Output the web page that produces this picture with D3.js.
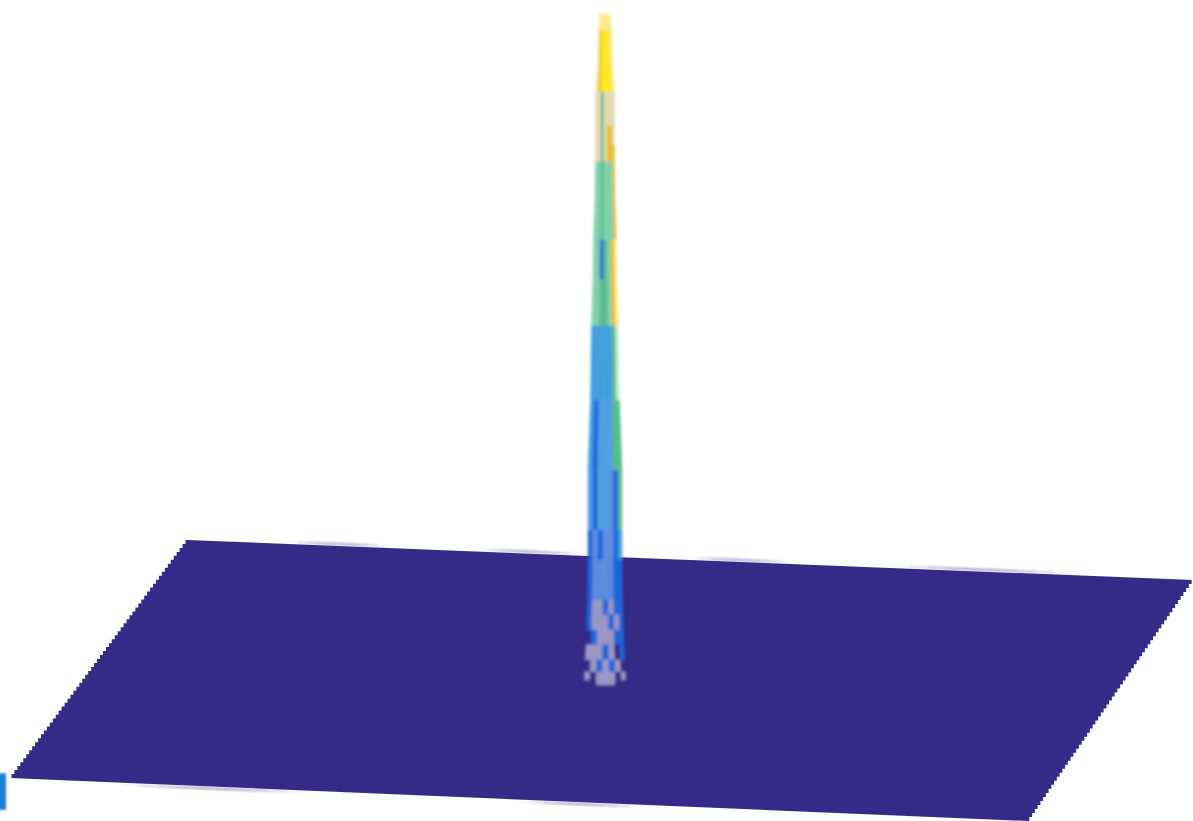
<!DOCTYPE html>
<html><head><meta charset="utf-8">
<script src="https://cdnjs.cloudflare.com/ajax/libs/d3/7.8.5/d3.min.js"></script>
<style>html,body{margin:0;padding:0;background:#fff}svg{display:block}</style>
</head><body><svg id="c" width="1193" height="821"></svg>
<script>
// Surface height levels (row edges, top to bottom) and spike half-width at each edge (in grid units)
const zEdges = [1,.976,.922,.883,.833,.803,.778,.721,.661,.601,.532,.42,.315,.225,.18,.12,.098,.075,.053,.03,.012,0,-.008];
const halfW  = [5.5,6.5,7.5,9.5,9.5,9.5,9.5,10,11.5,12,13.5,14.5,17,17,17,17.5,18,18.5,19,20,20.5,21,19];
const colEdges = [-1,-.72,-.42,-.12,.2,.5,.78,1];
// cell heights (colour index) per row, seven columns
const PY=.95,Y=.99,O=.9,T=.8,G=.65,D=.6,P=.55,B=.4,L=.35,M=.25,R=.2,V=.05,F=0;
const cells = [
 [PY,PY,PY,PY,PY,PY,PY],
 [PY,O,Y,Y,Y,Y,PY],
 [PY,O,Y,Y,Y,Y,PY],
 [T,T,D,T,T,T,T],
 [T,T,D,T,O,O,T],
 [T,T,D,T,O,O,O],
 [G,G,D,G,G,G,O],
 [G,G,D,G,G,G,O],
 [G,G,R,D,G,O,PY],
 [G,G,D,D,G,O,PY],
 [B,B,B,B,B,D,P],
 [B,R,L,L,L,D,D],
 [L,R,L,L,M,R,D],
 [R,M,R,M,M,R,B],
 [R,M,M,M,M,R,R],
 [R,V,V,R,V,R,R],
 [R,V,V,V,R,V,R],
 [F,R,V,V,V,R,R],
 [V,V,V,R,V,F,R],
 [F,V,R,V,R,V,F],
 [V,F,V,V,V,F,V],
 [F,F,V,V,V,F,F]
];
const levelKeys = [F,V,R,M,L,B,P,D,G,T,O,PY,Y];
const levelColors = ["#352a87","#9d99c6","#1f66dc","#5b8de0","#4f9fe2","#3c9fdc","#c6e8d6","#55bb8c","#7ed0a8","#e4d9ae","#e6bd2c","#fbe98c","#ffe714"];
// floor edge fade-outs: [edge, from, to]
const fades = [["back",.10,.20],["back",.29,.39],["back",.50,.60],["back",.70,.88],["front",.11,.29],["front",.5,.62]];
// small clipped fragment at the lower left: z extent
const fragZ = [-.14,-.195];

const svg = d3.select("#c");
const defs = svg.append("defs");
defs.append("filter").attr("id","b1").attr("x","-30%").attr("y","-5%").attr("width","160%").attr("height","110%")
  .append("feGaussianBlur").attr("stdDeviation",1.8);
defs.append("filter").attr("id","b0").attr("x","-2%").attr("y","-2%").attr("width","104%").attr("height","104%")
  .append("feGaussianBlur").attr("stdDeviation",.7);
defs.append("filter").attr("id","b2").attr("x","-5%").attr("y","-20%").attr("width","110%").attr("height","140%")
  .append("feGaussianBlur").attr("stdDeviation",1.1);
defs.append("filter").attr("id","b3").attr("x","-60%").attr("y","-20%").attr("width","220%").attr("height","140%")
  .append("feGaussianBlur").attr("stdDeviation",1.2);

// projection scales
const fx = d3.scaleLinear([0,1],[10,1028]), bx = d3.scaleLinear([0,1],[187,1193]);
const fy = d3.scaleLinear([0,1],[778,821]), by = d3.scaleLinear([0,1],[540,580]);
const proj = (u,v)=>[d3.interpolateNumber(fx(u),bx(u))(v), d3.interpolateNumber(fy(u),by(u))(v)];
const zY = d3.scaleLinear([0,1],[680,14]);
const color = d3.scaleOrdinal(levelKeys, levelColors);
const spikeX = 605;

// floor
const vs = d3.range(0,1.0001,1/60);
const leftEdge = vs.map(v=>proj(0,v));
const rightEdge = vs.map(v=>proj(1,v)).reverse();
const step = d3.line().curve(d3.curveStep);
const path = step(leftEdge)+"L"+step(rightEdge).slice(1)+"Z";
svg.append("path").attr("d",path).attr("fill",color(F)).attr("filter","url(#b0)");

// soft fades on edges
const fadeG = svg.append("g").attr("filter","url(#b2)");
fades.forEach(([e,a,b])=>{
  const v = e==="back"?1:0, off = e==="back"?-2:2;
  const p = d3.range(0,1.001,.1).map(t=>{const q=proj(a+(b-a)*t,v);return [q[0],q[1]+off];});
  for(let i=0;i<p.length-1;i++){
    fadeG.append("line").attr("x1",p[i][0]).attr("y1",p[i][1]).attr("x2",p[i+1][0]).attr("y2",p[i+1][1])
      .attr("stroke","#7f7ab5").attr("stroke-width",2.2)
      .attr("stroke-opacity",.7*Math.sin(Math.PI*(i+.5)/(p.length-1)));
  }
});

// spike
const g = svg.append("g").attr("filter","url(#b1)");
const colX = (c,row)=>d3.scaleLinear([-1,1],[spikeX-halfW[row],spikeX+halfW[row]])(c);
const quads=[];
cells.forEach((row,r)=>row.forEach((val,c)=>{
  quads.push({val,pts:[[colX(colEdges[c],r),zY(zEdges[r])],[colX(colEdges[c+1],r),zY(zEdges[r])],
    [colX(colEdges[c+1],r+1),zY(zEdges[r+1])],[colX(colEdges[c],r+1),zY(zEdges[r+1])]]});
}));
g.selectAll("polygon").data(quads).join("polygon")
  .attr("points",d=>d.pts.join(" "))
  .attr("fill",d=>color(d.val)).attr("stroke",d=>color(d.val)).attr("stroke-width",.4);

// fragment at lower-left
svg.append("rect").attr("x",-2).attr("width",8).attr("y",zY(fragZ[0])).attr("height",zY(fragZ[1])-zY(fragZ[0]))
  .attr("fill","#1b7fcf").attr("filter","url(#b3)");
</script></body></html>
